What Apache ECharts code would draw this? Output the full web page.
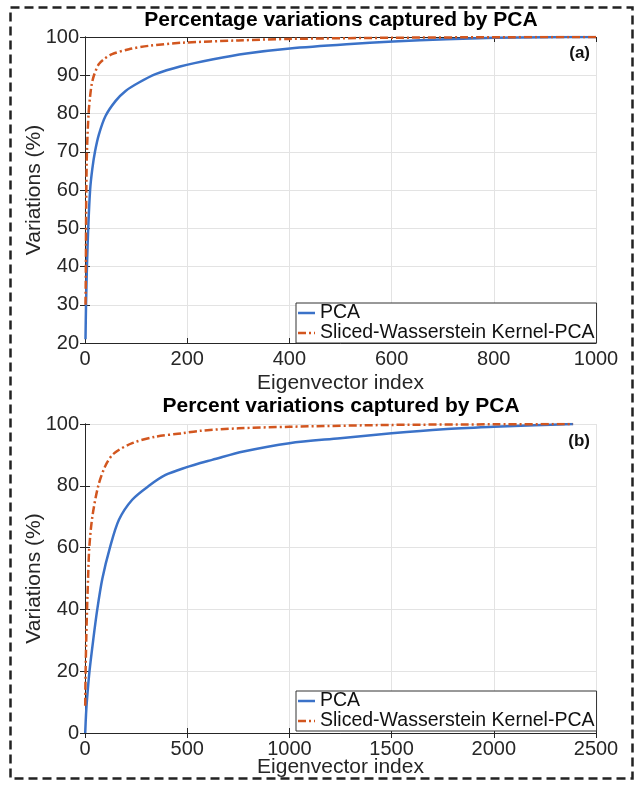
<!DOCTYPE html>
<html>
<head>
<meta charset="utf-8">
<script src="https://cdn.jsdelivr.net/npm/echarts@6/dist/echarts.min.js"></script>
<style>
  html, body { margin: 0; padding: 0; background: #fff; }
  #chart { width: 637px; height: 788px; }
</style>
</head>
<body>
<div id="chart"></div>
<script>
// panel (a)
var pcaIdxA = [1, 2, 3.8, 6.3, 10, 14.3, 19.5, 27.4, 40.4, 60, 79.5, 105.6, 138, 186, 251, 316, 401, 512, 603, 707, 802, 900, 1000];
var pcaValA = [21, 30, 40, 50, 60, 65.5, 70, 74.6, 79.4, 83.3, 85.9, 88.1, 90.3, 92.3, 94.2, 95.7, 97, 98.1, 98.8, 99.4, 99.8, 99.95, 100];
var swIdxA = [1, 1.7, 2, 2.6, 3.8, 7, 10, 13, 17.6, 27, 37, 53, 86, 125, 190, 300, 400, 600, 800, 1000];
var swValA = [30, 40, 50, 60, 70, 80, 84.5, 87.5, 90, 92.9, 94.2, 95.5, 96.8, 97.7, 98.5, 99.1, 99.5, 99.8, 99.95, 100];

// panel (b)
var pcaIdxB = [1, 5, 10, 22, 40, 60, 85, 122, 166, 231, 313, 394, 506, 564, 622, 775, 1000, 1248, 1500, 1753, 2000, 2200, 2388];
var pcaValB = [0, 6, 11, 20, 30, 40, 50, 60, 69, 75.5, 80, 83.5, 86.2, 87.4, 88.4, 91.1, 93.8, 95.4, 97, 98.3, 99.1, 99.6, 100];
var swIdxB = [1, 3, 6, 10, 15, 21, 36, 65, 100, 142, 231, 345, 476, 564, 750, 1000, 1500, 2000, 2388];
var swValB = [8.8, 20, 30, 40, 50, 60, 70, 80, 86.5, 90.5, 93.8, 95.9, 97, 97.8, 98.6, 99.1, 99.7, 99.9, 100];

var seriesNames = ['PCA', 'Sliced-Wasserstein Kernel-PCA'];
var titles = ['Percentage variations captured by PCA', 'Percent variations captured by PCA'];

function zip(xs, ys) {
    return xs.map(function (x, i) { return [x, ys[i]]; });
}

var FONT = 'Liberation Sans';
var INK = '#262626';
var BLUE = '#3b72c8';
var RED = '#D2561F';

var grids = [
    { left: 85, top: 37, width: 511, height: 306 },
    { left: 85, top: 424, width: 511, height: 309 }
];
var xRanges = [[0, 1000, 200], [0, 2500, 500]];
var yRanges = [[20, 100, 10], [0, 100, 20]];
var xNameGaps = [30, 24];

function plain(v) { return String(v); }

var xAxes = [];
var yAxes = [];
grids.forEach(function (g, i) {
    xAxes.push({
        type: 'value', gridIndex: i, position: 'bottom',
        min: xRanges[i][0], max: xRanges[i][1], interval: xRanges[i][2],
        name: 'Eigenvector index', nameLocation: 'middle', nameGap: xNameGaps[i],
        nameMoveOverlap: false,
        nameTextStyle: { fontFamily: FONT, fontSize: 21, color: INK },
        axisLine: { lineStyle: { color: INK, width: 1 } },
        axisTick: { inside: true, length: 5, lineStyle: { color: INK } },
        axisLabel: { fontFamily: FONT, fontSize: 20, color: INK, margin: 6, formatter: plain },
        splitLine: { show: true, lineStyle: { color: '#e3e3e3', width: 1 } }
    });
    xAxes.push({
        type: 'value', gridIndex: i, position: 'top',
        min: xRanges[i][0], max: xRanges[i][1], interval: xRanges[i][2],
        axisLine: { lineStyle: { color: INK, width: 1 } },
        axisTick: { inside: true, length: 5, lineStyle: { color: INK } },
        axisLabel: { show: false },
        splitLine: { show: false }
    });
    yAxes.push({
        type: 'value', gridIndex: i, position: 'left',
        min: yRanges[i][0], max: yRanges[i][1], interval: yRanges[i][2],
        name: 'Variations (%)', nameLocation: 'middle', nameGap: 40,
        nameMoveOverlap: false,
        nameTextStyle: { fontFamily: FONT, fontSize: 21, color: INK },
        axisLine: { show: true, lineStyle: { color: INK, width: 1 } },
        axisTick: { show: true, inside: true, length: 5, lineStyle: { color: INK } },
        axisLabel: { fontFamily: FONT, fontSize: 20, color: INK, margin: 6, formatter: plain },
        splitLine: { show: true, lineStyle: { color: '#e3e3e3', width: 1 } }
    });
    yAxes.push({
        type: 'value', gridIndex: i, position: 'right',
        min: yRanges[i][0], max: yRanges[i][1], interval: yRanges[i][2],
        axisLine: { show: true, lineStyle: { color: INK, width: 1 } },
        axisTick: { show: true, inside: true, length: 5, lineStyle: { color: INK } },
        axisLabel: { show: false },
        splitLine: { show: false }
    });
});

function lineSeries(name, data, panel, color, dash) {
    return {
        name: name, type: 'line',
        xAxisIndex: panel * 2, yAxisIndex: panel * 2,
        data: data, symbol: 'none', smooth: 0.3,
        lineStyle: { color: color, width: 2.5, type: dash },
        itemStyle: { color: color },
        z: dash === 'solid' ? 3 : 4
    };
}

var dashDot = [8, 3, 2, 3];
var series = [
    lineSeries(seriesNames[0], zip(pcaIdxA, pcaValA), 0, BLUE, 'solid'),
    lineSeries(seriesNames[1], zip(swIdxA, swValA), 0, RED, dashDot),
    lineSeries(seriesNames[0], zip(pcaIdxB, pcaValB), 1, BLUE, 'solid'),
    lineSeries(seriesNames[1], zip(swIdxB, swValB), 1, RED, dashDot)
];

var solidIcon = 'path://M0,0 H17 V2.5 H0 Z';
var dashDotIcon = 'path://M0,0 H8 V2.5 H0 Z M11,0 H13 V2.5 H11 Z M16,0 H17 V2.5 H16 Z';

function legendAt(top) {
    return {
        data: [
            { name: seriesNames[0], icon: solidIcon },
            { name: seriesNames[1], icon: dashDotIcon }
        ],
        orient: 'vertical', left: 296, top: top,
        itemWidth: 17, itemHeight: 2.5, itemGap: 0,
        padding: [0, 2, 0, 2],
        backgroundColor: '#fff', borderColor: '#333', borderWidth: 1, borderRadius: 0,
        textStyle: { fontFamily: FONT, fontSize: 19.5, color: '#111', lineHeight: 20 },
        selectedMode: false
    };
}

var option = {
    animation: false,
    backgroundColor: '#fff',
    grid: grids,
    xAxis: xAxes,
    yAxis: yAxes,
    legend: [legendAt(303), legendAt(691)],
    series: series,
    graphic: [
        {
            type: 'rect', silent: true, z: 100,
            shape: { x: 10.5, y: 7.5, width: 622, height: 771 },
            style: { fill: 'none', stroke: '#222', lineWidth: 2.5, lineDash: [9, 5] }
        },
        {
            type: 'text', silent: true, z: 100,
            position: [341, 10],
            style: { text: titles[0], textAlign: 'center', fontFamily: FONT, fontWeight: 'bold', fontSize: 21, fill: '#000' }
        },
        {
            type: 'text', silent: true, z: 100,
            position: [341, 396],
            style: { text: titles[1], textAlign: 'center', fontFamily: FONT, fontWeight: 'bold', fontSize: 21, fill: '#000' }
        },
        {
            type: 'text', silent: true, z: 100,
            position: [590, 45],
            style: { text: '(a)', textAlign: 'right', fontFamily: FONT, fontWeight: 'bold', fontSize: 17, fill: '#111' }
        },
        {
            type: 'text', silent: true, z: 100,
            position: [590, 433],
            style: { text: '(b)', textAlign: 'right', fontFamily: FONT, fontWeight: 'bold', fontSize: 17, fill: '#111' }
        }
    ]
};

var myChart = echarts.init(document.getElementById('chart'), null, { renderer: 'canvas' });
myChart.setOption(option);
</script>
</body>
</html>
